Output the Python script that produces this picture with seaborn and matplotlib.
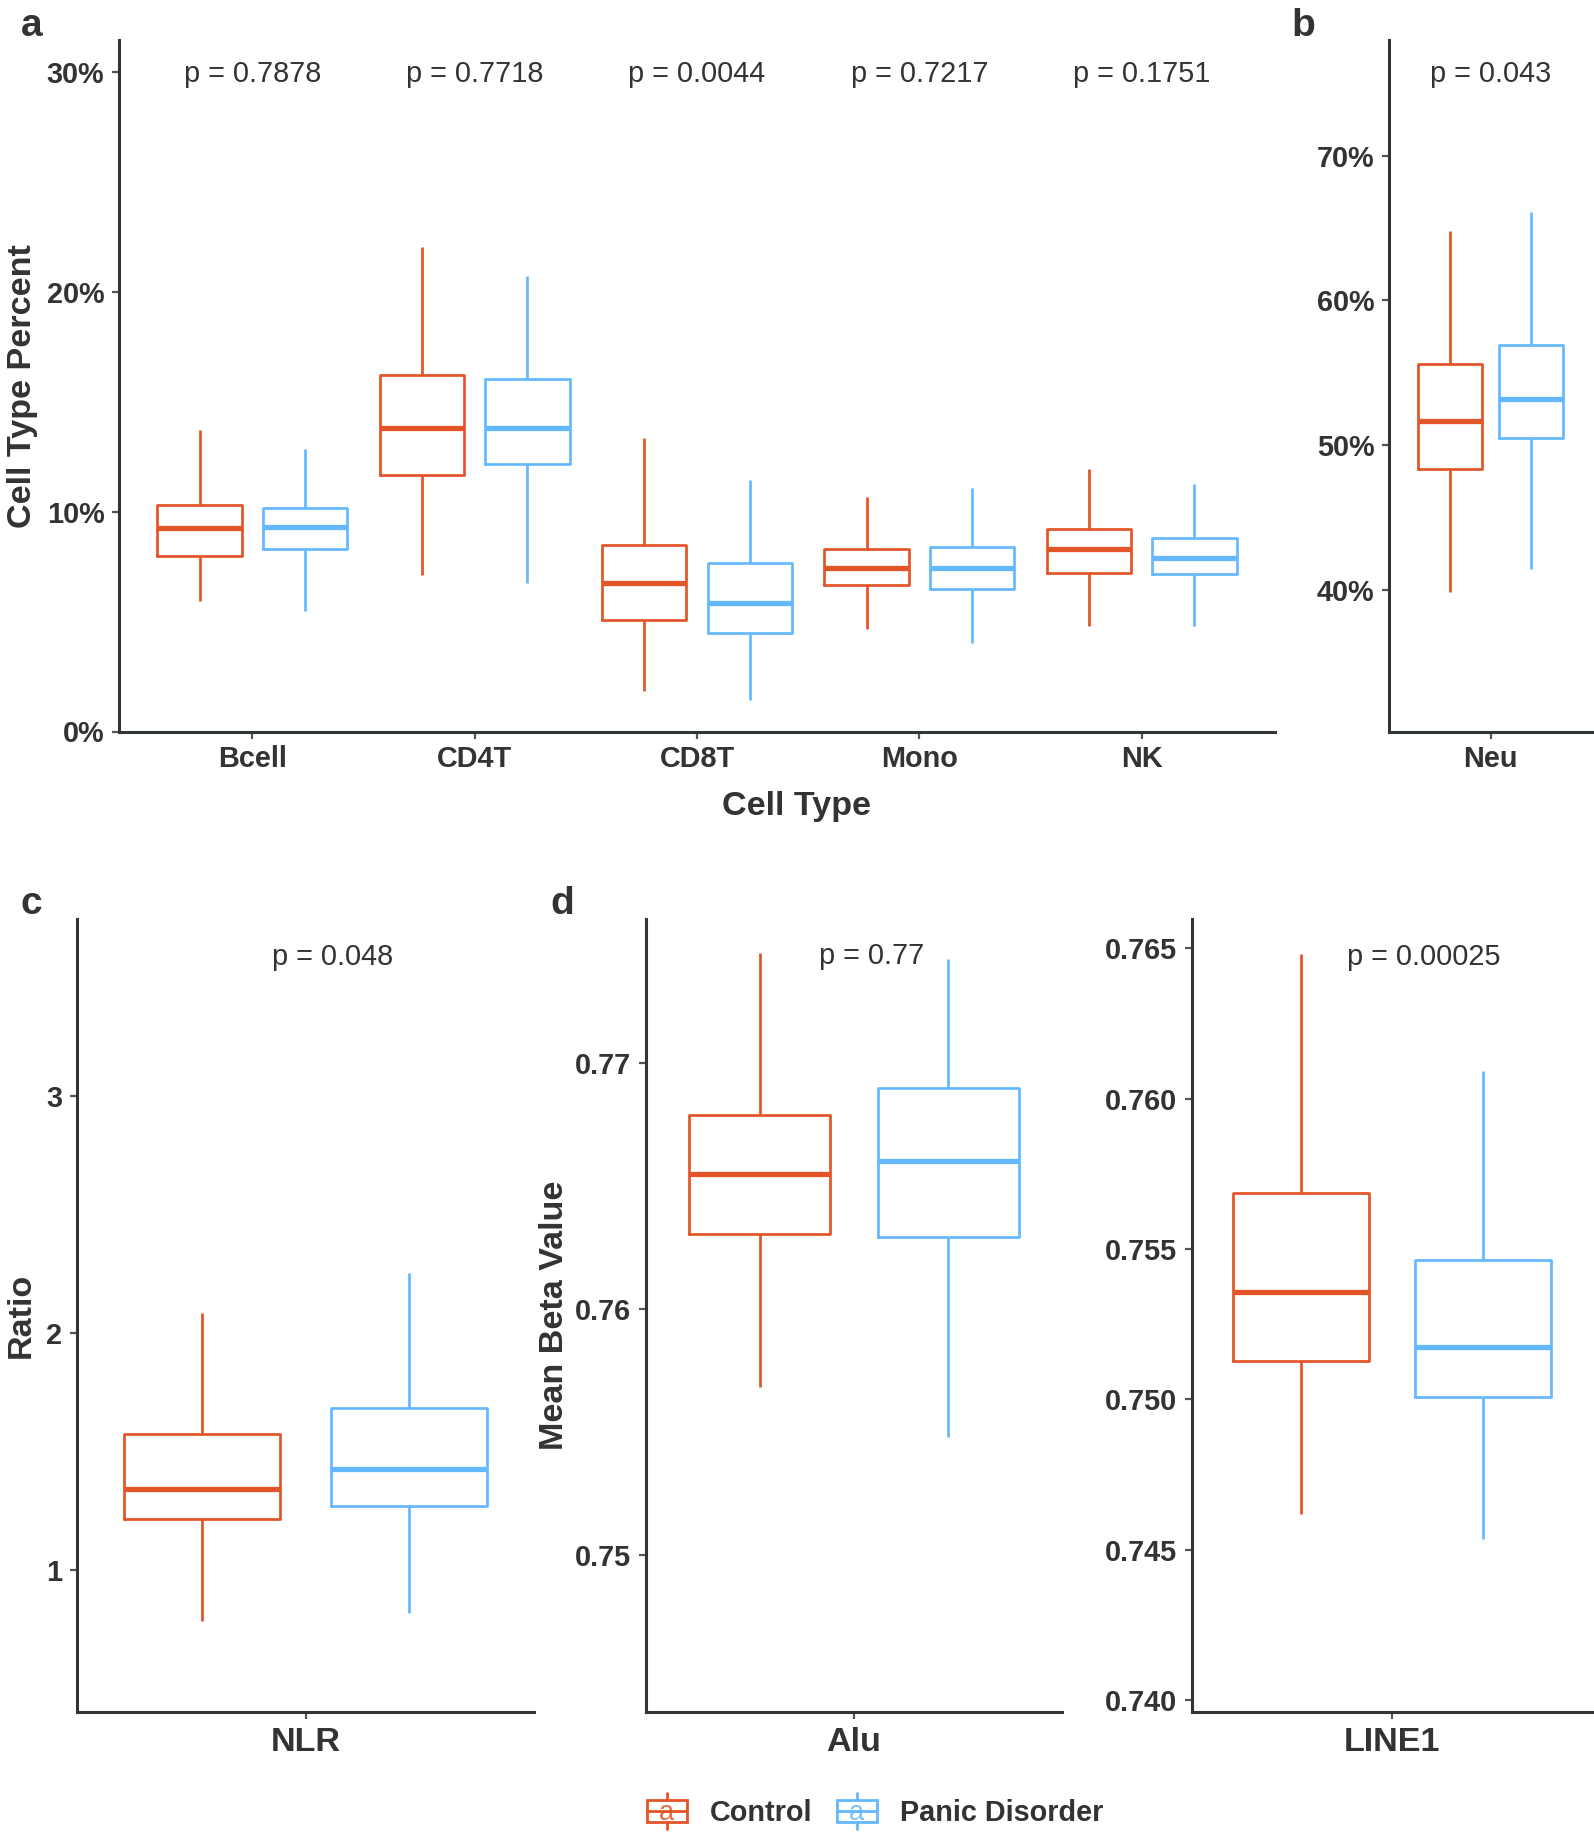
import numpy as np
import pandas as pd
import matplotlib
matplotlib.use("Agg")
import matplotlib.pyplot as plt
import seaborn as sns
from matplotlib.ticker import FuncFormatter, FixedLocator
from matplotlib.legend_handler import HandlerBase
from matplotlib.patches import Rectangle
from matplotlib.lines import Line2D
from matplotlib.text import Text

# ---------------- data (five-number summaries: low whisker, Q1, median, Q3, high whisker) ----------------
groups = ["Control", "Panic Disorder"]
group_colors = ["#E35426", "#63B8FF"]

cell_types = ["Bcell", "CD4T", "CD8T", "Mono", "NK"]
bcell_ctrl = [5.95, 7.97, 9.24, 10.30, 13.70]
bcell_pd = [5.47, 8.28, 9.29, 10.14, 12.85]
cd4t_ctrl = [7.12, 11.68, 13.81, 16.20, 22.04]
cd4t_pd = [6.74, 12.16, 13.81, 16.04, 20.70]
cd8t_ctrl = [1.86, 5.05, 6.74, 8.50, 13.33]
cd8t_pd = [1.43, 4.46, 5.84, 7.65, 11.42]
mono_ctrl = [4.67, 6.64, 7.43, 8.28, 10.67]
mono_pd = [4.04, 6.48, 7.43, 8.39, 11.05]
nk_ctrl = [4.78, 7.22, 8.28, 9.19, 11.95]
nk_pd = [4.78, 7.17, 7.91, 8.82, 11.26]
p_cell = ["0.7878", "0.7718", "0.0044", "0.7217", "0.1751"]

neu_ctrl = [39.84, 48.33, 51.65, 55.61, 64.83]
neu_pd = [41.46, 50.50, 53.20, 56.90, 66.10]
p_neu = "0.043"

nlr_ctrl = [0.788, 1.217, 1.345, 1.576, 2.084]
nlr_pd = [0.823, 1.271, 1.429, 1.685, 2.251]
p_nlr = "0.048"

alu_ctrl = [0.75684, 0.76306, 0.76549, 0.76786, 0.77447]
alu_pd = [0.75480, 0.76292, 0.76601, 0.76896, 0.77423]
p_alu = "0.77"

line1_ctrl = [0.74618, 0.75128, 0.75356, 0.75687, 0.76481]
line1_pd = [0.74535, 0.75008, 0.75173, 0.75465, 0.76093]
p_line1 = "0.00025"

# ---------------- style ----------------
sns.set_theme(style="ticks")
plt.rcParams["font.family"] = ["Liberation Sans", "DejaVu Sans"]
TXT = "#333333"
AX = "#303535"
TICK_FS = 20.8
TITLE_FS = 24.6


def make_df(cats, ctrl_lists, pd_lists):
    rows = []
    for c, cl, pl in zip(cats, ctrl_lists, pd_lists):
        for v in cl:
            rows.append((c, groups[0], v))
        for v in pl:
            rows.append((c, groups[1], v))
    return pd.DataFrame(rows, columns=["cat", "grp", "val"])


def draw(ax, df, cats, width, gap):
    sns.boxplot(data=df, x="cat", y="val", hue="grp", order=cats, hue_order=groups,
                palette=group_colors, fill=False, width=width, gap=gap,
                whis=(0, 100), showfliers=False, showcaps=False,
                linewidth=1.95, medianprops=dict(linewidth=3.8),
                legend=False, ax=ax)
    ax.set_xlim(-0.6, len(cats) - 0.4)
    ax.set_xlabel("")
    ax.set_ylabel("")
    for s in ["top", "right"]:
        ax.spines[s].set_visible(False)
    for s in ["left", "bottom"]:
        ax.spines[s].set_linewidth(2.2)
        ax.spines[s].set_color(AX)
    ax.tick_params(axis="both", length=5, width=1.6, color="#555555",
                   labelcolor=TXT)
    ax.tick_params(axis="y", pad=5.5)
    ax.grid(False)


W = 1594
H = 1832
fig = plt.figure(figsize=(W / 100, H / 100), dpi=100)


def axes_px(left, right, top, bottom):
    return fig.add_axes([left / W, 1 - bottom / H, (right - left) / W, (bottom - top) / H])


def bold_ticks(ax):
    for lab in ax.get_xticklabels() + ax.get_yticklabels():
        lab.set_fontweight("bold")


pct_fmt = FuncFormatter(lambda v, p: f"{v:.0f}%")

# ---- panel a ----
ax_a = axes_px(119, 1275, 40, 731.5)
df_a = make_df(cell_types, [bcell_ctrl, cd4t_ctrl, cd8t_ctrl, mono_ctrl, nk_ctrl],
               [bcell_pd, cd4t_pd, cd8t_pd, mono_pd, nk_pd])
draw(ax_a, df_a, cell_types, 0.95, 0.2)
ax_a.set_ylim(0, 31.44)
ax_a.yaxis.set_major_locator(FixedLocator([0, 10, 20, 30]))
ax_a.yaxis.set_major_formatter(pct_fmt)
ax_a.tick_params(axis="y", labelsize=TICK_FS)
ax_a.tick_params(axis="x", labelsize=TICK_FS, pad=4.5)
bold_ticks(ax_a)
for i, p in enumerate(p_cell):
    ax_a.text(i, 29.9, f"p = {p}", ha="center", va="center", fontsize=TICK_FS, color=TXT)
ax_a.set_ylabel("Cell Type Percent", fontsize=TITLE_FS, fontweight="bold", color=TXT)
ax_a.yaxis.set_label_coords(-0.070, 0.5)

# ---- panel b ----
ax_b = axes_px(1389, 1592, 40, 731.5)
df_b = make_df(["Neu"], [neu_ctrl], [neu_pd])
draw(ax_b, df_b, ["Neu"], 0.95, 0.2)
ax_b.set_ylim(30.2, 78.0)
ax_b.yaxis.set_major_locator(FixedLocator([40, 50, 60, 70]))
ax_b.yaxis.set_major_formatter(pct_fmt)
ax_b.tick_params(axis="y", labelsize=TICK_FS)
ax_b.tick_params(axis="x", labelsize=TICK_FS, pad=4.5)
bold_ticks(ax_b)
ax_b.text(0, 75.65, f"p = {p_neu}", ha="center", va="center", fontsize=TICK_FS, color=TXT)

# ---- panel c ----
ax_c = axes_px(77, 534, 919, 1712)
df_c = make_df(["NLR"], [nlr_ctrl], [nlr_pd])
draw(ax_c, df_c, ["NLR"], 1.09, 0.25)
ax_c.set_ylim(0.404, 3.744)
ax_c.yaxis.set_major_locator(FixedLocator([1, 2, 3]))
ax_c.yaxis.set_major_formatter(FuncFormatter(lambda v, p: f"{v:.0f}"))
ax_c.tick_params(axis="y", labelsize=TICK_FS)
ax_c.tick_params(axis="x", labelsize=TITLE_FS, pad=6)
bold_ticks(ax_c)
ax_c.text(0.07, 3.585, f"p = {p_nlr}", ha="center", va="center", fontsize=TICK_FS, color=TXT)
ax_c.set_ylabel("Ratio", fontsize=TITLE_FS, fontweight="bold", color=TXT)
ax_c.yaxis.set_label_coords(-0.088, 0.5)

# ---- panel d: Alu ----
ax_d1 = axes_px(646, 1062, 919, 1712)
df_d1 = make_df(["Alu"], [alu_ctrl], [alu_pd])
draw(ax_d1, df_d1, ["Alu"], 1.09, 0.25)
ax_d1.set_ylim(0.74363, 0.77584)
ax_d1.yaxis.set_major_locator(FixedLocator([0.75, 0.76, 0.77]))
ax_d1.yaxis.set_major_formatter(FuncFormatter(lambda v, p: f"{v:.2f}"))
ax_d1.tick_params(axis="y", labelsize=TICK_FS)
ax_d1.tick_params(axis="x", labelsize=TITLE_FS, pad=6)
bold_ticks(ax_d1)
ax_d1.text(0.05, 0.77433, f"p = {p_alu}", ha="center", va="center", fontsize=TICK_FS, color=TXT)
ax_d1.set_ylabel("Mean Beta Value", fontsize=TITLE_FS, fontweight="bold", color=TXT)
ax_d1.yaxis.set_label_coords(-0.183, 0.5)

# ---- panel d: LINE1 ----
ax_d2 = axes_px(1192, 1592, 919, 1712)
df_d2 = make_df(["LINE1"], [line1_ctrl], [line1_pd])
draw(ax_d2, df_d2, ["LINE1"], 1.09, 0.25)
ax_d2.set_ylim(0.73961, 0.76597)
ax_d2.yaxis.set_major_locator(FixedLocator([0.740, 0.745, 0.750, 0.755, 0.760, 0.765]))
ax_d2.yaxis.set_major_formatter(FuncFormatter(lambda v, p: f"{v:.3f}"))
ax_d2.tick_params(axis="y", labelsize=TICK_FS)
ax_d2.tick_params(axis="x", labelsize=TITLE_FS, pad=6)
bold_ticks(ax_d2)
ax_d2.text(0.094, 0.76472, f"p = {p_line1}", ha="center", va="center", fontsize=TICK_FS, color=TXT)

# ---- shared x title and panel letters ----
fig.text(0.5, 1 - 815 / H, "Cell Type", ha="center", va="baseline",
         fontsize=TITLE_FS, fontweight="bold", color=TXT)
for letter, x, y in [("a", 21, 36), ("b", 1291, 36), ("c", 21, 914), ("d", 550, 914)]:
    fig.text(x / W, 1 - y / H, letter, ha="left", va="baseline",
             fontsize=28, fontweight="bold", color=TXT)


# ---- legend with boxplot-style keys ----
class BoxKeyHandler(HandlerBase):
    def __init__(self, color):
        super().__init__()
        self.color = color

    def create_artists(self, legend, orig_handle, xdescent, ydescent, width, height,
                       fontsize, trans):
        c = self.color
        x0, y0 = -xdescent, -ydescent
        bh = height * 0.6
        by = y0 + (height - bh) / 2
        xm = x0 + width / 2
        arts = [
            Rectangle((x0, by), width, bh, fill=False, edgecolor=c, linewidth=2.0, transform=trans),
            Line2D([x0, x0 + width], [y0 + height / 2] * 2, color=c, lw=2.0, transform=trans),
            Line2D([xm, xm], [y0, by], color=c, lw=2.0, transform=trans),
            Line2D([xm, xm], [by + bh, y0 + height], color=c, lw=2.0, transform=trans),
            Text(xm, by + bh * 0.42, "a", color=c, ha="center", va="center",
                 fontsize=fontsize * 0.95, transform=trans, alpha=0.85),
        ]
        return arts


h1 = Line2D([], [], label=groups[0])
h2 = Line2D([], [], label=groups[1])
leg = fig.legend(handles=[h1, h2], labels=groups, loc="center",
                 bbox_to_anchor=(875 / W, 1 - 1811 / H), ncol=2, frameon=False,
                 handler_map={h1: BoxKeyHandler(group_colors[0]), h2: BoxKeyHandler(group_colors[1])},
                 prop=dict(size=TICK_FS, weight="bold"), handlelength=1.38, handleheight=1.49,
                 handletextpad=0.8, columnspacing=0.85, borderpad=0)
for t in leg.get_texts():
    t.set_color(TXT)

fig.savefig("out.png", dpi=100)
